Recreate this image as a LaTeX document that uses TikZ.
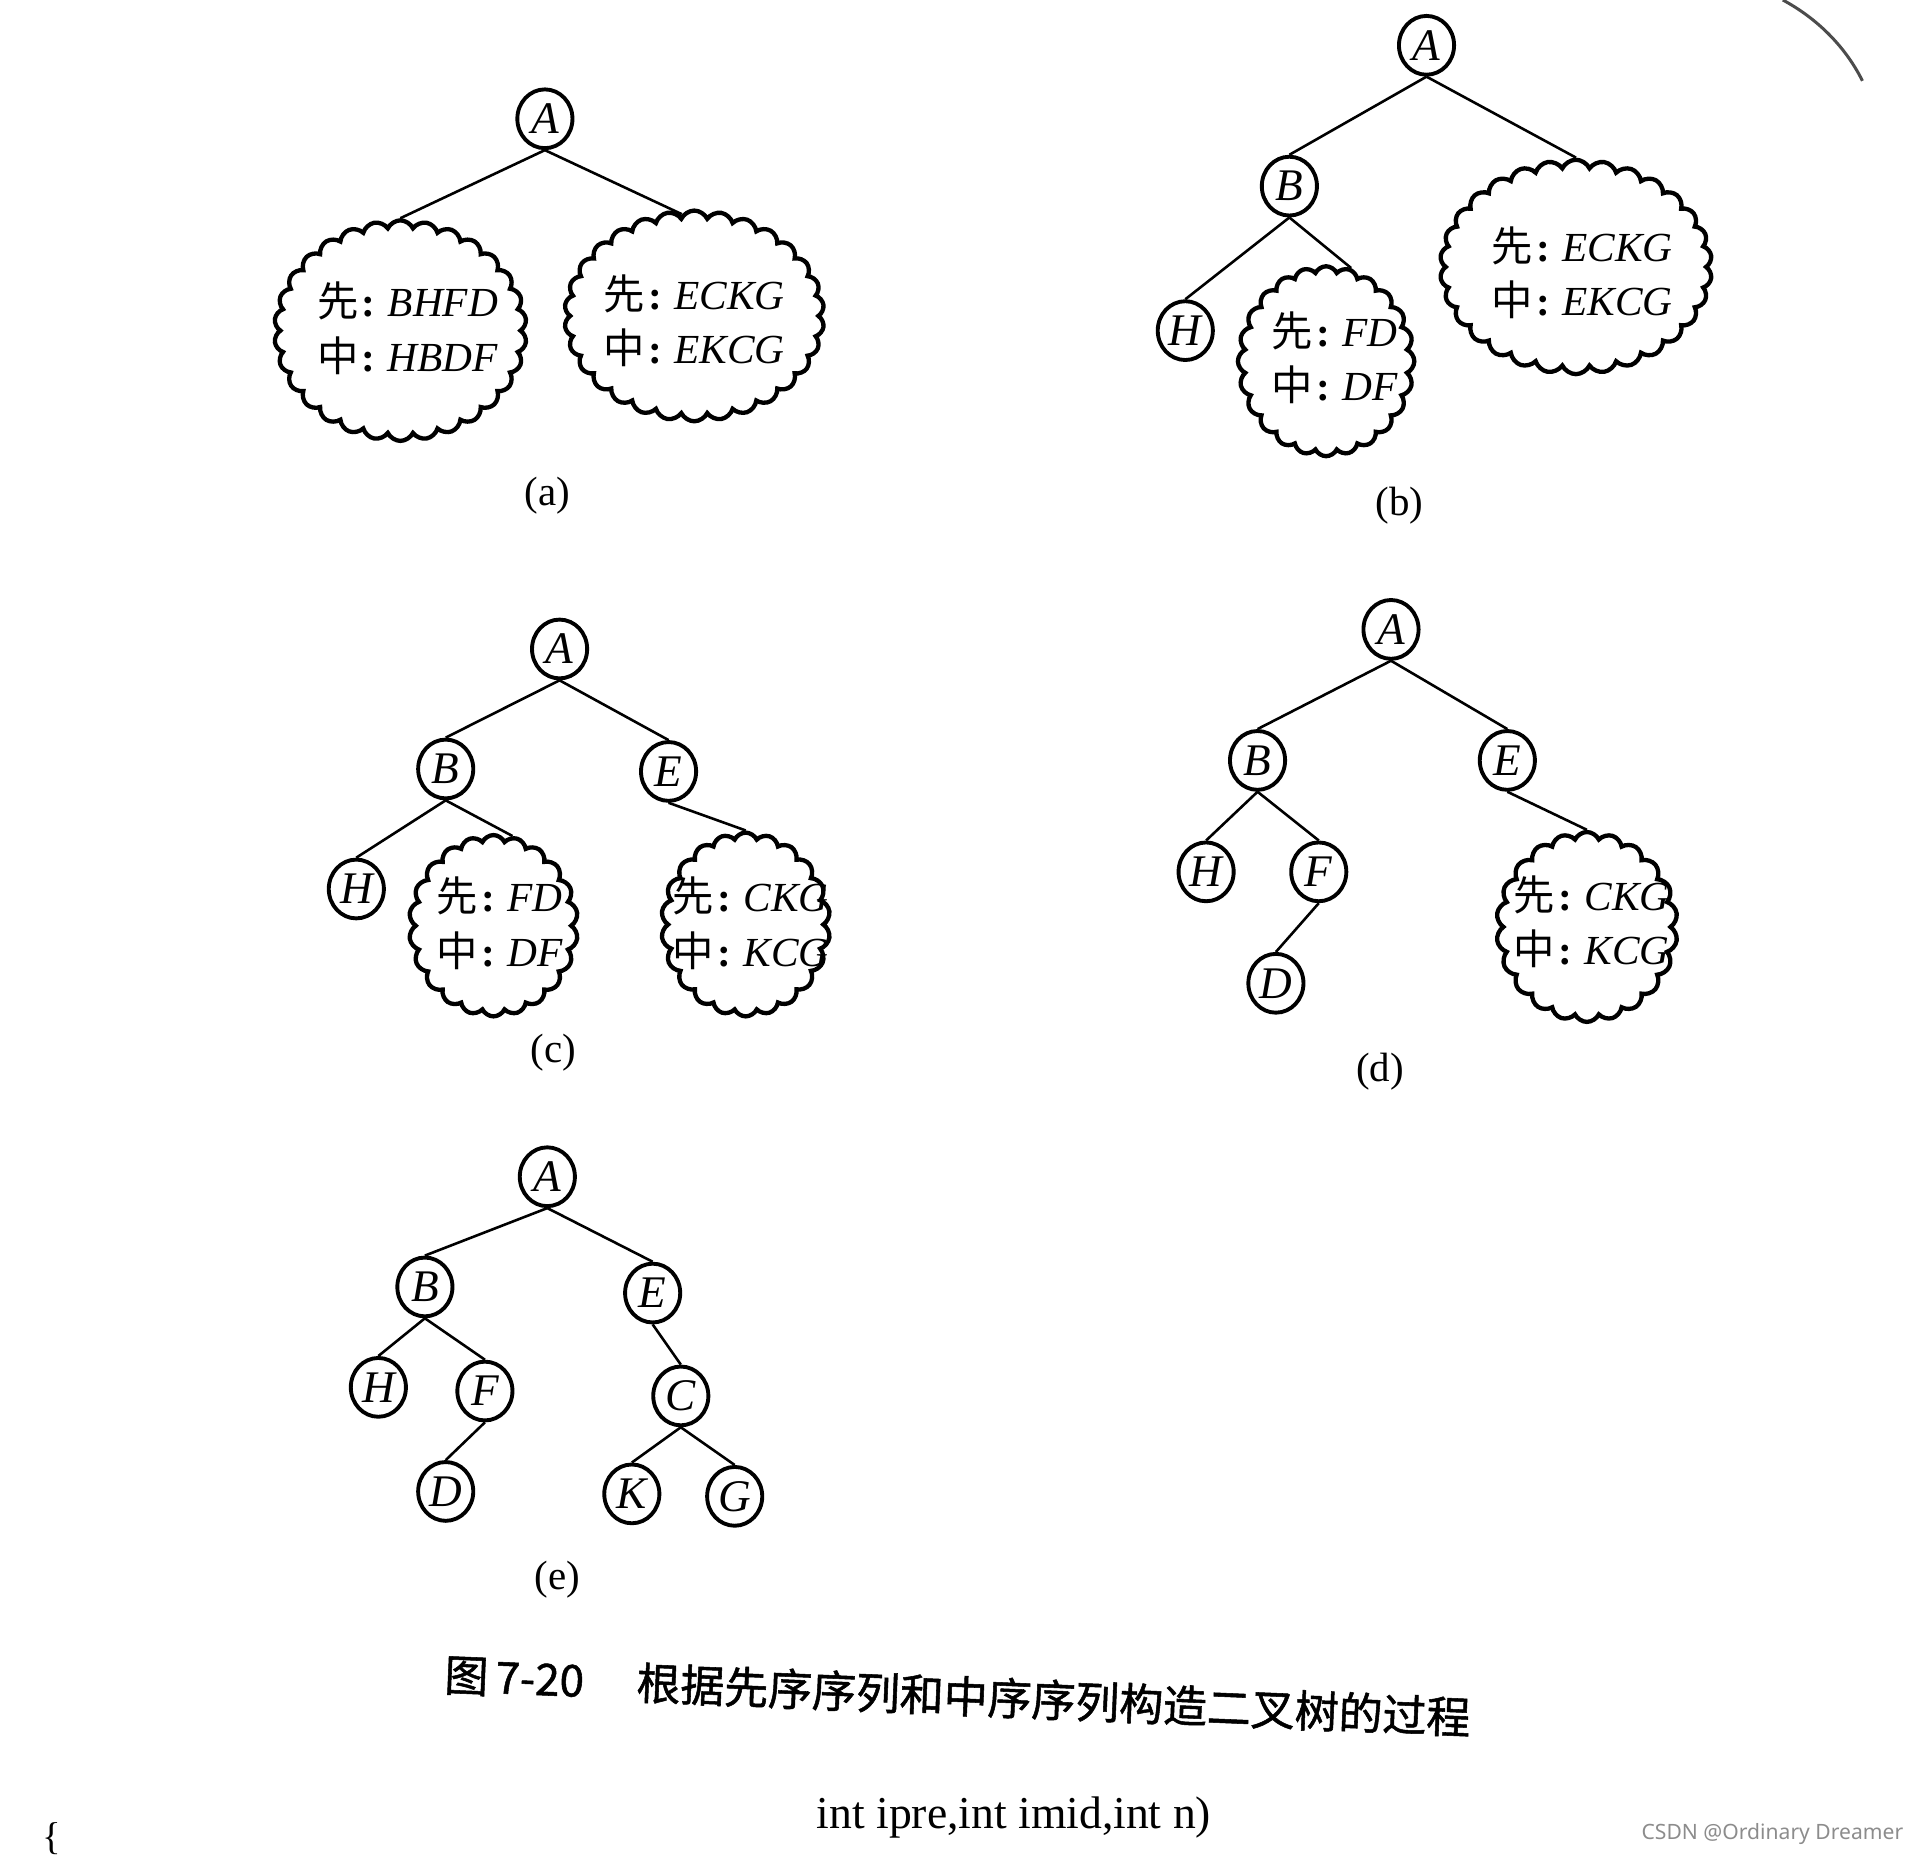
\documentclass[tikz,border=0pt]{standalone}
\usepackage{fontspec}
\setmainfont{Liberation Serif}
\newfontfamily\cjk{Noto Sans CJK SC}
\newfontfamily\cjkcap[FakeBold=1.2]{Noto Sans CJK SC}
\newfontfamily\wmfont{Noto Sans}
\usetikzlibrary{shapes.symbols,shapes.geometric}
\newcommand\xian{{\cjk 先}\hspace{0.08em}\textbf{:}\hspace{0.3em}}
\newcommand\zhong{{\cjk 中}\hspace{0.08em}\textbf{:}\hspace{0.3em}}
\begin{document}
\begin{tikzpicture}[x=0.01cm,y=-0.01cm,
  tn/.style={ellipse,draw,line width=0.9pt,minimum width=0.45cm,minimum height=0.48cm,inner sep=0pt,
    font=\fontsize{10.5}{12}\selectfont\itshape},
  cl/.style={cloud,draw,line width=1pt,cloud puffs=#1,cloud puff arc=130,cloud ignores aspect,inner sep=0pt},
  ed/.style={line width=0.6pt},
  ct/.style={align=left,inner sep=0pt,font=\fontsize{9.6}{12.6}\selectfont},
  lab/.style={inner sep=0pt,font=\fontsize{9.5}{11}\selectfont}
]
\useasboundingbox (0,0) rectangle (1568,1517);

% ---------- (a) ----------
\node[tn] (aA) at (445,97) {A};
\node[cl=30,minimum width=2.06cm,minimum height=1.80cm] (acl1) at (327,270) {};
\node[cl=30,minimum width=2.12cm,minimum height=1.72cm] (acl2) at (567,258) {};
\node[ct] (at1) at (333,268) {\xian\textit{BHFD}\\\zhong\textit{HBDF}};
\node[ct] (at2) at (567,262) {\xian\textit{ECKG}\\\zhong\textit{EKCG}};
\draw[ed] (aA.south) -- (acl1.north);
\draw[ed] (aA.south) -- (acl2.97);
\node[lab] (la) at (447,405) {(a)};

% ---------- (b) ----------
\node[tn] (bA) at (1165,37) {A};
\node[tn] (bB) at (1053,152) {B};
\node[tn] (bH) at (968,270) {H};
\node[cl=24,minimum width=1.44cm,minimum height=1.55cm] (bcl1) at (1083,295) {};
\node[cl=30,minimum width=2.22cm,minimum height=1.75cm] (bcl2) at (1287,218) {};
\node[ct] (bt1) at (1090,292) {\xian\textit{FD}\\\zhong\textit{DF}};
\node[ct] (bt2) at (1292,223) {\xian\textit{ECKG}\\\zhong\textit{EKCG}};
\draw[ed] (bA.south) -- (bB.north);
\draw[ed] (bA.south) -- (bcl2.north);
\draw[ed] (bB.south) -- (bH.north);
\draw[ed] (bB.south) -- (bcl1.75);
\node[lab] (lb) at (1143,413) {(b)};

% ---------- (c) ----------
\node[tn] (cA) at (457,530) {A};
\node[tn] (cB) at (364,628) {B};
\node[tn] (cE) at (546,630) {E};
\node[tn] (cH) at (291,726) {H};
\node[cl=22,minimum width=1.38cm,minimum height=1.48cm] (ccl1) at (403,756) {};
\node[cl=22,minimum width=1.38cm,minimum height=1.50cm] (ccl2) at (609,755) {};
\node[ct] (ct1) at (408,754) {\xian\textit{FD}\\\zhong\textit{DF}};
\node[ct] (ct2) at (613,754) {\xian\textit{CKG}\\\zhong\textit{KCG}};
\draw[ed] (cA.south) -- (cB.north);
\draw[ed] (cA.south) -- (cE.north);
\draw[ed] (cB.south) -- (cH.north);
\draw[ed] (cB.south) -- (ccl1.78);
\draw[ed] (cE.south) -- (ccl2.north);
\node[lab] (lc) at (452,860) {(c)};

% ---------- (d) ----------
\node[tn] (dA) at (1136,514) {A};
\node[tn] (dB) at (1027,621) {B};
\node[tn] (dE) at (1231,621) {E};
\node[tn] (dH) at (985,712) {H};
\node[tn] (dF) at (1077,712) {F};
\node[tn] (dD) at (1042,803) {D};
\node[cl=22,minimum width=1.48cm,minimum height=1.55cm] (dcl) at (1296,757) {};
\node[ct] (dt) at (1300,753) {\xian\textit{CKG}\\\zhong\textit{KCG}};
\draw[ed] (dA.south) -- (dB.north);
\draw[ed] (dA.south) -- (dE.north);
\draw[ed] (dB.south) -- (dH.north);
\draw[ed] (dB.south) -- (dF.north);
\draw[ed] (dF.south) -- (dD.north);
\draw[ed] (dE.south) -- (dcl.north);
\node[lab] (ld) at (1127,875) {(d)};

% ---------- (e) ----------
\node[tn] (eA) at (447,961) {A};
\node[tn] (eB) at (347,1051) {B};
\node[tn] (eE) at (533,1056) {E};
\node[tn] (eH) at (309,1133) {H};
\node[tn] (eF) at (396,1136) {F};
\node[tn] (eC) at (556,1140) {C};
\node[tn] (eD) at (364,1218) {D};
\node[tn] (eK) at (516,1220) {K};
\node[tn] (eG) at (600,1222) {G};
\draw[ed] (eA.south) -- (eB.north);
\draw[ed] (eA.south) -- (eE.north);
\draw[ed] (eB.south) -- (eH.north);
\draw[ed] (eB.south) -- (eF.north);
\draw[ed] (eF.south) -- (eD.north);
\draw[ed] (eE.south) -- (eC.north);
\draw[ed] (eC.south) -- (eK.north);
\draw[ed] (eC.south) -- (eG.north);
\node[lab] (le) at (455,1290) {(e)};

% ---------- caption & page text ----------
\node[inner sep=0pt,rotate=-2.4,font=\fontsize{10.2}{12}\cjkcap] (cap) at (782,1385)
  {图\,7-20\hspace{1.2em}根据先序序列和中序序列构造二叉树的过程};
\node[inner sep=0pt,font=\fontsize{10.6}{12}\selectfont] (code) at (828,1484) {int ipre,int imid,int n)};
\node[inner sep=0pt,anchor=east,text=black!45,font=\fontsize{4.9}{6}\wmfont] (wm) at (1555,1498) {CSDN @Ordinary Dreamer};
\node[inner sep=0pt,anchor=north,font=\fontsize{9}{11}\selectfont] (brace) at (42,1488) {\{};
\draw[black!70,line width=0.7pt] (1456,0) .. controls (1482,14) and (1506,36) .. (1521,66);
\end{tikzpicture}
\end{document}
